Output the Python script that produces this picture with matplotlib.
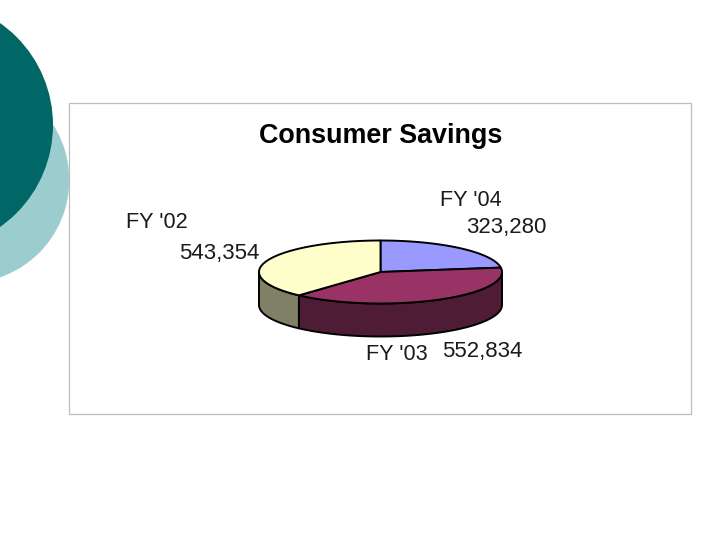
import numpy as np
import matplotlib
matplotlib.use("Agg")
import matplotlib.pyplot as plt
from matplotlib.patches import Circle, Rectangle, Polygon

categories = ["FY '04", "FY '03", "FY '02"]
values = [323280, 552834, 543354]
value_labels = ["323,280", "552,834", "543,354"]
top_colors = ["#9999FF", "#993366", "#FFFFCC"]
side_colors = ["#4C4C80", "#4F1C36", "#808066"]
title = "Consumer Savings"

plt.rcParams["font.family"] = ["Liberation Sans", "DejaVu Sans"]
fig = plt.figure(figsize=(7.2, 5.4), dpi=100, facecolor="white")
ax = fig.add_axes([0, 0, 1, 1])
ax.set_xlim(0, 720)
ax.set_ylim(540, 0)
ax.axis("off")

# decorative slide circles
ax.add_patch(Circle((-33.7, 180), 103.0, fc="#9CCDCE", ec="none", zorder=1))
ax.add_patch(Circle((-71.6, 125), 124.6, fc="#006666", ec="none", zorder=2))

# chart frame
ax.add_patch(Rectangle((69, 103), 622, 311, fc="white", ec="#BDBDBD", lw=0.9, zorder=3))

# pie geometry
cx, cy, rx, ry, depth = 380.5, 272.0, 121.5, 31.5, 33.0
def pt(deg, d=0.0):
    t = np.radians(deg)
    return cx + rx * np.sin(t), cy - ry * np.cos(t) + d

fr = np.array(values, dtype=float) / sum(values)
edges = np.concatenate([[0], np.cumsum(fr) * 360])

# side walls (front half only)
for i in range(len(values)):
    a0, a1 = max(edges[i], 90), min(edges[i + 1], 270)
    if a1 <= a0:
        continue
    ang = np.linspace(a0, a1, 80)
    upper = [pt(a) for a in ang]
    lower = [pt(a, depth) for a in ang[::-1]]
    ax.add_patch(Polygon(upper + lower, closed=True, fc=side_colors[i], ec="black",
                         lw=1.4, joinstyle="round", zorder=4))

# top faces
for i in range(len(values)):
    ang = np.linspace(edges[i], edges[i + 1], 120)
    ax.add_patch(Polygon([(cx, cy)] + [pt(a) for a in ang], closed=True, fc=top_colors[i],
                         ec="black", lw=1.4, joinstyle="round", zorder=5))

# text
ax.text(380.5, 136, title, fontsize=19.4, fontweight="bold", ha="center", va="center",
        color="black", zorder=6)
num = dict(fontsize=16.0, color="#1A1A1A", va="center", zorder=6)
cat = dict(fontsize=15.6, color="#1A1A1A", va="center", zorder=6)
ax.text(440, 200, categories[0], ha="left", **cat)
ax.text(466, 228, value_labels[0], ha="left", **num)
ax.text(366, 355, categories[1], ha="left", **cat)
ax.text(442, 352, value_labels[1], ha="left", **num)
ax.text(126, 222, categories[2], ha="left", **cat)
ax.text(179, 253, value_labels[2], ha="left", **num)

fig.savefig("out.png", dpi=100, facecolor="white")
